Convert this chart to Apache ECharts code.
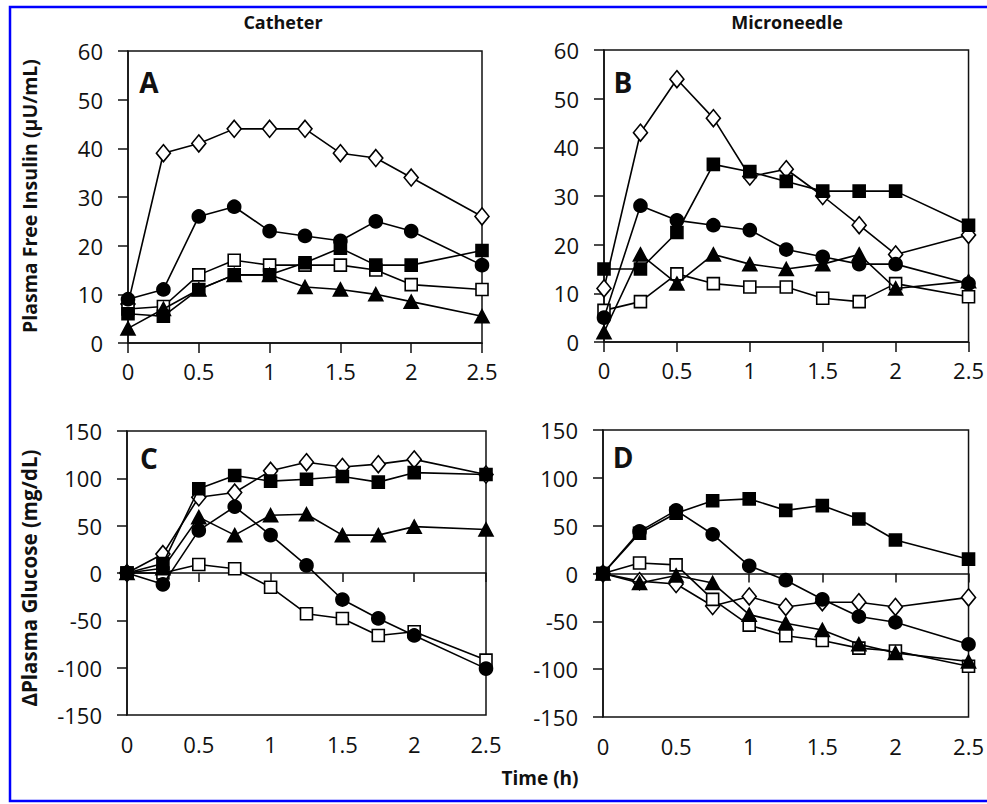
<!DOCTYPE html>
<html>
<head>
<meta charset="utf-8">
<title>Plasma insulin and glucose</title>
<script src="https://cdn.jsdelivr.net/npm/echarts@6/dist/echarts.min.js"></script>
<style>
	html, body {
		margin: 0;
		padding: 0;
		background: #fff;
	}
	#chart {
		width: 987px;
		height: 804px;
	}
</style>
</head>
<body>
<div id="chart"></div>
<script>
// sampling times (h)
const timeH = [0, 0.25, 0.5, 0.75, 1, 1.25, 1.5, 1.75, 2, 2.5]

// A - catheter, plasma free insulin (uU/mL)
const catInsDiamond = [8, 39, 41, 44, 44, 44, 39, 38, 34, 26]
const catInsCircle = [9, 11, 26, 28, 23, 22, 21, 25, 23, 16]
const catInsSquare = [6, 5.5, 11, 14, 14, 16.5, 19.5, 16, 16, 19]
const catInsOpenSquare = [7, 7.5, 14, 17, 16, 16, 16, 15, 12, 11]
const catInsTriangle = [3, 7, 11, 14, 14, 11.5, 11, 10, 8.5, 5.5]

// B - microneedle, plasma free insulin
const mnInsDiamond = [11, 43, 54, 46, 34, 35.5, 30, 24, 18, 22]
const mnInsCircle = [5, 28, 25, 24, 23, 19, 17.5, 16, 16, 12]
const mnInsSquare = [15, 15, 22.5, 36.5, 35, 33, 31, 31, 31, 24]
const mnInsOpenSquare = [6.5, 8.3, 14, 12, 11.3, 11.3, 9, 8.3, 12, 9.3]
const mnInsTriangle = [2, 18, 12, 18, 16, 15, 16, 18, 11, 12.5]

// C - catheter, delta plasma glucose (mg/dL)
const catGluDiamond = [0, 20, 80, 85, 108, 117, 112, 115, 120, 104]
const catGluCircle = [0, -12, 45, 70, 40, 8, -28, -48, -66, -101]
const catGluSquare = [0, 10, 89, 103, 97, 99, 102, 96, 106, 104]
const catGluOpenSquare = [0, 0, 9, 4.5, -15, -43, -48, -66, -62, -92]
const catGluTriangle = [0, 5, 59, 40, 61, 62, 40, 40, 49, 46]

// D - microneedle, delta plasma glucose
const mnGluDiamond = [0, -8, -11, -34, -24, -35, -30, -30, -35, -25]
const mnGluCircle = [0, 44, 66, 41, 8, -7, -27, -45, -51, -74]
const mnGluSquare = [0, 42, 63, 76, 78, 66, 71, 57, 35, 15]
const mnGluOpenSquare = [0, 11, 9, -27, -54, -65, -70, -78, -81, -97]
const mnGluTriangle = [0, -10, -2, -10, -43, -52, -59, -74, -83, -92]

const insulinTicks = [0, 60, 10]
const glucoseTicks = [-150, 150, 50]

const FONT = '"Open Sans", "DejaVu Sans", sans-serif'
const INK = '#111'

const markers = {
	diamond: { symbol: 'diamond', size: [14, 17], fill: '#fff', z: 2 },
	openSquare: { symbol: 'rect', size: 12, fill: '#fff', z: 3 },
	triangle: { symbol: 'triangle', size: [14, 13], fill: '#000', z: 4 },
	square: { symbol: 'rect', size: 12, fill: '#000', z: 5 },
	circle: { symbol: 'circle', size: 13, fill: '#000', z: 6 }
}

const chart = echarts.init(document.getElementById('chart'), null, { renderer: 'svg' })

const grids = [
	{ left: 128, top: 51, width: 354, height: 292 },
	{ left: 604, top: 50, width: 368, height: 292 },
	{ left: 127, top: 431, width: 359, height: 284 },
	{ left: 603, top: 430, width: 368, height: 287 }
].map(g => ({ ...g, show: true, borderColor: INK, borderWidth: 1.5, backgroundColor: 'transparent' }))

const labelStyle = { color: INK, fontFamily: FONT, fontSize: 22 }

// x axis with labels (top panels: sits at y=0 which is the bottom)
const labelX = (gridIndex, onZero) => ({
	type: 'value',
	gridIndex,
	position: 'bottom',
	min: 0,
	max: 2.5,
	interval: 0.5,
	axisLine: { show: onZero, onZero: onZero, lineStyle: { color: INK, width: 1.5 } },
	axisTick: { show: onZero, length: 10, lineStyle: { color: INK, width: 1.5 } },
	axisLabel: { ...labelStyle, margin: onZero ? 17 : 18 },
	splitLine: { show: false }
})

// zero line with ticks, no labels (glucose panels)
const zeroX = gridIndex => ({
	type: 'value',
	gridIndex,
	position: 'bottom',
	min: 0,
	max: 2.5,
	interval: 0.5,
	axisLine: { show: true, onZero: true, lineStyle: { color: INK, width: 1.5 } },
	axisTick: { show: true, length: 9, lineStyle: { color: INK, width: 1.5 } },
	axisLabel: { show: false },
	splitLine: { show: false }
})

const makeY = (gridIndex, ticks) => ({
	type: 'value',
	gridIndex,
	min: ticks[0],
	max: ticks[1],
	interval: ticks[2],
	axisLine: { show: true, lineStyle: { color: INK, width: 1.5 } },
	axisTick: { show: true, length: 10, lineStyle: { color: INK, width: 1.5 } },
	axisLabel: { ...labelStyle, margin: 25 },
	splitLine: { show: false }
})

const xAxes = [labelX(0, true), labelX(1, true), labelX(2, false), zeroX(2), labelX(3, false), zeroX(3)]
const yAxes = [makeY(0, insulinTicks), makeY(1, insulinTicks), makeY(2, glucoseTicks), makeY(3, glucoseTicks)]

const lineSeries = (name, vals, m, xi, yi) => ({
	name,
	type: 'line',
	xAxisIndex: xi,
	yAxisIndex: yi,
	data: timeH.map((t, k) => [t, vals[k]]),
	symbol: m.symbol,
	symbolSize: m.size,
	showAllSymbol: true,
	clip: false,
	z: m.z,
	lineStyle: { color: '#000', width: 1.6 },
	itemStyle: { color: m.fill, borderColor: '#000', borderWidth: 1.6 },
	emphasis: { disabled: true },
	animation: false
})

const panelSeries = (vals, xi, yi) => [
	lineSeries('diamond', vals[0], markers.diamond, xi, yi),
	lineSeries('open square', vals[3], markers.openSquare, xi, yi),
	lineSeries('triangle', vals[4], markers.triangle, xi, yi),
	lineSeries('square', vals[2], markers.square, xi, yi),
	lineSeries('circle', vals[1], markers.circle, xi, yi)
]

const series = [
	...panelSeries([catInsDiamond, catInsCircle, catInsSquare, catInsOpenSquare, catInsTriangle], 0, 0),
	...panelSeries([mnInsDiamond, mnInsCircle, mnInsSquare, mnInsOpenSquare, mnInsTriangle], 1, 1),
	...panelSeries([catGluDiamond, catGluCircle, catGluSquare, catGluOpenSquare, catGluTriangle], 2, 2),
	...panelSeries([mnGluDiamond, mnGluCircle, mnGluSquare, mnGluOpenSquare, mnGluTriangle], 4, 3)
]

const txt = (text, x, y, size, extra) => ({
	type: 'text',
	x,
	y,
	style: {
		text,
		fill: INK,
		font: `bold ${size}px ${FONT}`,
		textAlign: 'center',
		textVerticalAlign: 'middle'
	},
	...(extra || {})
})

const option = {
	animation: false,
	backgroundColor: '#fff',
	grid: grids,
	xAxis: xAxes,
	yAxis: yAxes,
	series,
	graphic: [
		// blue frame
		{
			type: 'rect',
			shape: { x: 10, y: 7, width: 990, height: 794 },
			style: { fill: 'none', stroke: '#0000ff', lineWidth: 2.5 },
			silent: true
		},
		txt('Catheter', 283, 22, 18),
		txt('Microneedle', 787, 22, 18),
		txt('Time (h)', 540, 778, 19),
		txt('A', 149, 82, 28),
		txt('B', 623, 82, 28),
		txt('C', 149, 458, 28),
		txt('D', 623, 457, 28),
		txt('Plasma Free Insulin (μU/mL)', 29, 196, 19.5, { rotation: Math.PI / 2 }),
		txt('ΔPlasma Glucose (mg/dL)', 29, 578, 20.5, { rotation: Math.PI / 2 })
	]
}

chart.setOption(option)
</script>
</body>
</html>
